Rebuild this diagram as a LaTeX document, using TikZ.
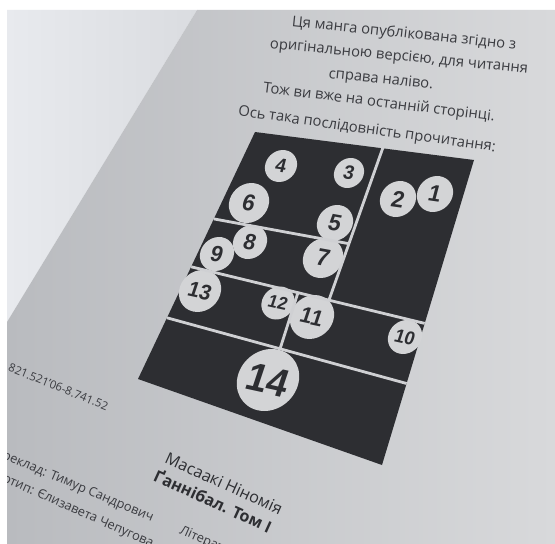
\documentclass[tikz,border=0pt]{standalone}
\usepackage{fontspec}
\setmainfont{Open Sans}
\newfontfamily\numfont{Liberation Sans}
\usetikzlibrary{calc}
\definecolor{sheet}{HTML}{E8EAEE}
\definecolor{sheetedge}{HTML}{DADCE0}
\definecolor{pagedark}{HTML}{B9BBBF}
\definecolor{pagelight}{HTML}{D8D9DB}
\definecolor{ink}{HTML}{2D2E32}
\definecolor{bubble}{HTML}{D3D4D6}
\definecolor{gutter}{HTML}{CFD0D3}
\definecolor{printtext}{HTML}{3A3B40}

\begin{document}
\begin{tikzpicture}[
  x=0.02cm, y=-0.02cm,
  num/.style={circle, fill=bubble, inner sep=0pt, text=ink, xslant=0.12,
    font=\numfont\bfseries\fontsize{#1}{#1}\selectfont},
  gap/.style={draw=gutter, line width=1.6pt},
  line/.style={text=printtext, inner sep=0pt, font=\fontsize{8.4}{10}\selectfont},
  credit/.style={text=printtext, inner sep=0pt, font=\fontsize{7.3}{9}\selectfont},
  title/.style={text=ink, inner sep=0pt, font=\fontsize{9.2}{11}\selectfont}
]
\useasboundingbox (0,0) rectangle (555,544);
\fill[white] (0,0) rectangle (555,544);

\begin{scope}
\clip (7,10) rectangle (555,544);
% the two pages
\shade[left color=sheet, right color=sheetedge] (7,10) -- (197,10) -- (7,322) -- cycle;
\shade[left color=pagedark, right color=pagelight] (197,10) -- (555,10) -- (555,544) -- (7,544) -- (7,322) -- cycle;

% text above the chart
\node[line, rotate=-6] (t1) at (404,34) {Ця манга опублікована згідно з};
\node[line, rotate=-5.5] (t2) at (399,57) {оригінальною версією, для читання};
\node[line, rotate=-6] (t3) at (381,80) {справа наліво.};
\node[line, rotate=-7] (t4) at (379,103) {Тож ви вже на останній сторінці.};
\node[line, rotate=-8] (t5) at (367,130) {Ось така послідовність прочитання:};

% panel sheet
\coordinate (tl) at (255,132);
\coordinate (tr) at (474,160);
\coordinate (br) at (382,465);
\coordinate (bl) at (138,379);
\fill[ink] (tl) -- (tr) -- (br) -- (bl) -- cycle;

% reading order
\node[num=13, minimum size=0.72cm, rotate=-8] (c1) at (435,194) {1};
\node[num=13, minimum size=0.72cm, rotate=-8] (c2) at (398,199) {2};
\node[num=11, minimum size=0.6cm, rotate=-8] (c3) at (349,173) {3};
\node[num=11, minimum size=0.64cm, rotate=-8] (c4) at (281,166) {4};
\node[num=13, minimum size=0.72cm, rotate=-10] (c5) at (335,223) {5};
\node[num=13, minimum size=0.8cm, rotate=-10] (c6) at (249,203) {6};
\node[num=13.5, minimum size=0.8cm, rotate=-10] (c7) at (323,258) {7};
\node[num=12.5, minimum size=0.68cm, rotate=-10] (c8) at (250,242) {8};
\node[num=12.5, minimum size=0.68cm, rotate=-10] (c9) at (217,254) {9};
\node[num=10.5, minimum size=0.68cm, rotate=-12] (c10) at (405,337) {10};
\node[num=12.5, minimum size=0.88cm, rotate=-12] (c11) at (312,317) {11};
\node[num=10, minimum size=0.66cm, rotate=-12] (c12) at (278,303) {12};
\node[num=12, minimum size=0.84cm, rotate=-12] (c13) at (200,291) {13};
\node[num=22, minimum size=1.24cm, rotate=-12] (c14) at (268,380) {14};

% gutters
\coordinate (v1a) at (383.5,146);
\coordinate (v1b) at (329,300);
\coordinate (ha) at (213.8,218.9);
\coordinate (hb) at (349,243.7);
\coordinate (hc) at (191.2,266.8);
\coordinate (hd) at (424.7,323.4);
\coordinate (v2a) at (298,292.5);
\coordinate (v2b) at (280,349);
\coordinate (he) at (167,317.8);
\coordinate (hf) at (406.6,383.5);
\draw[gap] (v1a) -- (v1b);
\draw[gap] (ha) -- (hb);
\draw[gap] (hc) -- (hd);
\draw[gap] (v2a) -- (v2b);
\draw[gap] (he) -- (hf);

% imprint
\node[credit, rotate=-22, anchor=east, font=\fontsize{6.5}{8}\selectfont] (udk) at (108,407) {821.521'06-8.741.52};
\node[credit, rotate=-23, anchor=east] (transl) at (153,519) {Переклад: Тимур Сандрович};
\node[credit, rotate=-24, anchor=east] (logo) at (153,545) {Логотип: Єлизавета Чепугова};
\node[credit, rotate=-24, anchor=west] (edit) at (180,530) {Літературний редактор:};
\node[title, rotate=-24.5, anchor=west] (author) at (166,457) {Масаакі Ніномія};
\node[title, rotate=-24.5, anchor=west, font=\fontsize{9.2}{11}\selectfont\bfseries] (book) at (155,474) {Ґаннібал. Том І};
\end{scope}
\end{tikzpicture}
\end{document}
